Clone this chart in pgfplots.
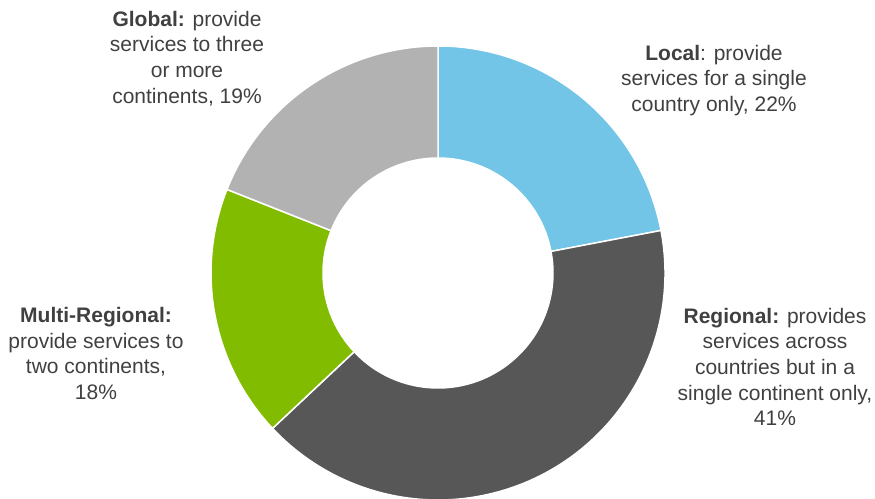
\documentclass[border=0pt]{standalone}
\usepackage{fontspec}
\setmainfont{Liberation Sans}
\usepackage{pgfplots}
\pgfplotsset{compat=1.18}

\definecolor{cLocal}{HTML}{72C5E6}
\definecolor{cRegional}{HTML}{575757}
\definecolor{cMulti}{HTML}{81BC00}
\definecolor{cGlobal}{HTML}{B2B2B2}
\definecolor{txt}{HTML}{404040}

\begin{document}
\begin{tikzpicture}
\clip (0,0) rectangle (875pt,498pt);
\begin{axis}[
    at={(0,0)}, anchor=south west,
    scale only axis,
    width=875pt, height=498pt,
    xmin=0, xmax=875, ymin=0, ymax=498,
    hide axis, clip=false,
]
% donut: shares in percent, clockwise from 12 o'clock
\pgfmathsetmacro\s{90}
\foreach \v/\c in {22/cLocal,41/cRegional,18/cMulti,19/cGlobal}{
  \pgfmathsetmacro\e{\s-3.6*\v}
  \edef\tmp{\noexpand\fill[\c,draw=white,line width=1.5pt]
    (axis cs:{438+227*cos(\s)},{225+227*sin(\s)})
    arc[start angle=\s,end angle=\e,radius=227pt]
    -- (axis cs:{438+115*cos(\e)},{225+115*sin(\e)})
    arc[start angle=\e,end angle=\s,radius=115pt] -- cycle;}
  \tmp
  \xdef\s{\e}
}
\tikzset{lbl/.style={align=center,inner sep=0pt,text=txt,
  font=\fontsize{21}{25.6}\selectfont}}
\node[lbl] at (axis cs:714,417.5) {\textbf{Local}: provide\\services for a single\\country only, 22\%};
\node[lbl] at (axis cs:775,131) {\textbf{Regional:} provides\\services across\\countries but in a\\single continent only,\\41\%};
\node[lbl] at (axis cs:96,144.5) {\textbf{Multi-Regional:}\\provide services to\\two continents,\\18\%};
\node[lbl] at (axis cs:187,439.5) {\textbf{Global:} provide\\services to three\\or more\\continents, 19\%};
\end{axis}
\end{tikzpicture}
\end{document}
